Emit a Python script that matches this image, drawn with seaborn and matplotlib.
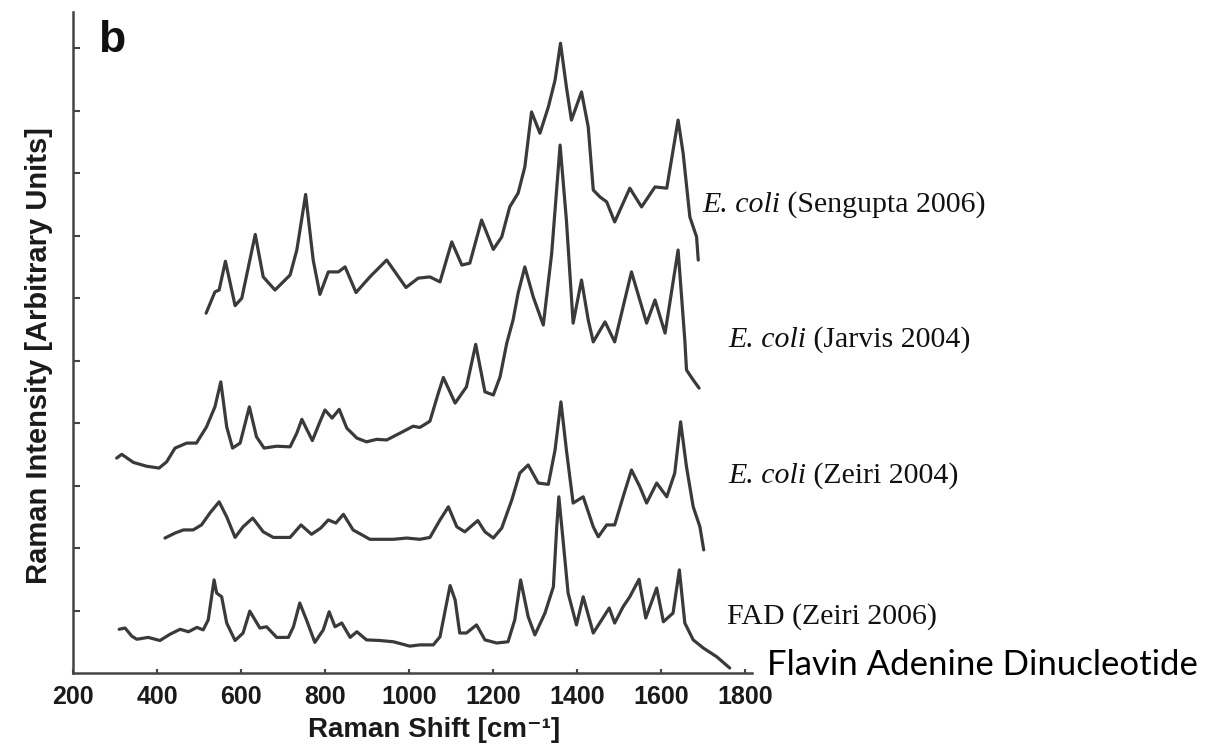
import matplotlib
matplotlib.use("Agg")
import matplotlib.pyplot as plt
import seaborn as sns
import numpy as np

# ---------------- data (Raman shift in cm-1, intensity in arbitrary units, stacked) -------------
sengupta_x = [517, 538, 548, 563, 586, 602, 634, 653, 681, 717, 733, 754, 772, 788, 808, 832, 848,
              874, 907, 947, 993, 1022, 1050, 1074, 1102, 1126, 1145, 1173, 1201, 1221, 1240, 1260,
              1276, 1292, 1312, 1332, 1348, 1361, 1375, 1387, 1411, 1427, 1439, 1455, 1471, 1490,
              1526, 1554, 1586, 1614, 1641, 1653, 1669, 1685, 1689]
sengupta_y = [5.76, 6.10, 6.13, 6.59, 5.88, 6.00, 7.02, 6.34, 6.13, 6.37, 6.77, 7.66, 6.61, 6.06,
              6.42, 6.42, 6.50, 6.09, 6.34, 6.61, 6.17, 6.32, 6.34, 6.26, 6.90, 6.53, 6.56, 7.25,
              6.78, 6.98, 7.46, 7.68, 8.10, 8.98, 8.64, 9.06, 9.49, 10.08, 9.38, 8.85, 9.30, 8.74,
              7.73, 7.62, 7.54, 7.22, 7.76, 7.46, 7.78, 7.76, 8.85, 8.32, 7.30, 6.98, 6.61]

jarvis_x = [304, 316, 344, 375, 405, 423, 443, 471, 494, 518, 538, 552, 566, 580, 598, 620, 637,
            655, 685, 717, 733, 745, 770, 788, 800, 817, 834, 852, 876, 899, 923, 947, 979, 1010,
            1026, 1050, 1070, 1082, 1110, 1137, 1159, 1181, 1201, 1217, 1233, 1248, 1260, 1276,
            1296, 1320, 1340, 1360, 1375, 1391, 1411, 1427, 1439, 1467, 1490, 1530, 1566, 1586,
            1610, 1641, 1657, 1661, 1677, 1691]
jarvis_y = [3.44, 3.50, 3.37, 3.31, 3.28, 3.38, 3.60, 3.68, 3.68, 3.94, 4.26, 4.66, 3.94, 3.60,
            3.68, 4.26, 3.78, 3.60, 3.63, 3.62, 3.84, 4.06, 3.72, 4.02, 4.21, 4.08, 4.22, 3.92,
            3.76, 3.70, 3.74, 3.73, 3.84, 3.95, 3.93, 4.03, 4.48, 4.73, 4.32, 4.58, 5.26, 4.50,
            4.45, 4.74, 5.28, 5.65, 6.08, 6.50, 6.02, 5.57, 6.72, 8.45, 7.25, 5.60, 6.29, 5.65,
            5.30, 5.62, 5.30, 6.42, 5.60, 5.97, 5.44, 6.77, 5.33, 4.85, 4.69, 4.56]

zeiri04_x = [419, 443, 463, 486, 506, 526, 548, 566, 586, 605, 628, 653, 677, 717, 743, 768, 790,
             808, 826, 844, 867, 907, 963, 995, 1026, 1050, 1074, 1094, 1114, 1133, 1164, 1181,
             1201, 1221, 1245, 1264, 1284, 1308, 1332, 1348, 1362, 1375, 1391, 1415, 1439, 1451,
             1471, 1490, 1510, 1530, 1550, 1566, 1590, 1614, 1633, 1647, 1661, 1677, 1693, 1702]
zeiri04_y = [2.16, 2.24, 2.29, 2.29, 2.37, 2.56, 2.74, 2.50, 2.17, 2.34, 2.48, 2.26, 2.17, 2.17,
             2.37, 2.22, 2.32, 2.45, 2.40, 2.54, 2.29, 2.14, 2.14, 2.16, 2.14, 2.17, 2.45, 2.66,
             2.34, 2.26, 2.44, 2.26, 2.16, 2.32, 2.77, 3.20, 3.33, 3.04, 3.02, 3.57, 4.34, 3.57,
             2.72, 2.82, 2.34, 2.18, 2.37, 2.37, 2.82, 3.25, 2.98, 2.72, 3.04, 2.82, 3.20, 4.02,
             3.30, 2.66, 2.34, 1.97]

fad_x = [310, 324, 340, 352, 379, 407, 431, 455, 475, 495, 510, 522, 536, 542, 554, 566, 586, 605,
         621, 645, 661, 685, 713, 725, 740, 756, 776, 796, 810, 824, 840, 860, 876, 899, 931, 963,
         1002, 1026, 1058, 1074, 1088, 1098, 1110, 1121, 1137, 1161, 1181, 1209, 1236, 1252, 1266,
         1284, 1300, 1324, 1344, 1352, 1357, 1367, 1379, 1399, 1415, 1439, 1459, 1477, 1490, 1510,
         1526, 1548, 1564, 1590, 1606, 1629, 1644, 1657, 1677, 1701, 1733, 1764]
fad_y = [0.70, 0.72, 0.59, 0.54, 0.57, 0.52, 0.62, 0.70, 0.66, 0.73, 0.69, 0.85, 1.49, 1.28, 1.22,
         0.80, 0.52, 0.64, 0.99, 0.72, 0.74, 0.57, 0.57, 0.74, 1.12, 0.85, 0.49, 0.69, 0.98, 0.74,
         0.80, 0.57, 0.66, 0.53, 0.52, 0.50, 0.43, 0.45, 0.45, 0.58, 1.06, 1.40, 1.17, 0.64, 0.64,
         0.77, 0.53, 0.48, 0.50, 0.85, 1.49, 0.90, 0.61, 0.96, 1.38, 2.34, 2.82, 2.13, 1.28, 0.77,
         1.22, 0.64, 0.85, 1.04, 0.80, 1.06, 1.22, 1.50, 0.88, 1.36, 0.82, 0.96, 1.65, 0.80, 0.53,
         0.40, 0.26, 0.08]

x_ticks = [200, 400, 600, 800, 1000, 1200, 1400, 1600, 1800]
y_ticks = [1, 2, 3, 4, 5, 6, 7, 8, 9, 10]

curve_labels = [("E. coli", " (Sengupta 2006)"),
                ("E. coli", " (Jarvis 2004)"),
                ("E. coli", " (Zeiri 2004)"),
                ("", "FAD (Zeiri 2006)")]

# ---------------- style ----------------
sns.set_theme(style="white")
plt.rcParams["font.family"] = ["Liberation Sans", "DejaVu Sans"]

W, H = 1209, 753
fig = plt.figure(figsize=(W / 100, H / 100), dpi=100)
fig.patch.set_facecolor("white")
ax = fig.add_axes([73 / W, 80 / H, 679 / W, 661 / H])
ax.set_facecolor("white")

line_color = "#3a3a3a"
for xs, ys in [(sengupta_x, sengupta_y), (jarvis_x, jarvis_y),
               (zeiri04_x, zeiri04_y), (fad_x, fad_y)]:
    sns.lineplot(x=xs, y=ys, ax=ax, color=line_color, linewidth=2.3,
                 sort=False, estimator=None, legend=False,
                 solid_joinstyle="round", solid_capstyle="round")

ax.set_xlim(200, 1817)
ax.set_ylim(0, 10.58)
ax.set_xticks(x_ticks)
ax.set_xticklabels([str(t) for t in x_ticks])
ax.set_yticks(y_ticks)
sns.despine(ax=ax)
for sp in ("left", "bottom"):
    ax.spines[sp].set_color("#444444")
    ax.spines[sp].set_linewidth(1.8)

ax.tick_params(axis="x", bottom=True, direction="in", length=3, width=1.5, color="#444444",
               pad=9, labelsize=18, labelcolor="#1a1a1a")
ax.tick_params(axis="y", left=True, direction="in", length=5, width=1.5, color="#444444",
               labelleft=False)
for lab in ax.get_xticklabels():
    lab.set_fontweight("bold")

ax.set_xlabel("Raman Shift [cm⁻¹]", fontsize=20, fontweight="bold", color="#1a1a1a",
              family=["Liberation Sans", "DejaVu Sans"])
ax.xaxis.set_label_coords(0.532, -0.066)
ax.set_ylabel("Raman Intensity [Arbitrary Units]", fontsize=21, fontweight="bold",
              color="#1a1a1a")
ax.yaxis.set_label_coords(-0.03, 0.48)

# panel letter
fig.text(98 / W, 1 - 52 / H, "b", fontsize=32, fontweight="bold", color="#111111",
         ha="left", va="baseline")

# curve labels (italic species name followed by upright reference)
renderer = fig.canvas.get_renderer()
label_pos = [(702, 212), (728, 347), (728, 483), (727, 624)]
serif = dict(fontsize=21.5, family="Liberation Serif", color="#111111",
             ha="left", va="baseline")
for (ital, rest), (px, py) in zip(curve_labels, label_pos):
    x0 = px / W
    if ital:
        t = fig.text(x0, 1 - py / H, ital, style="italic", **serif)
        bb = t.get_window_extent(renderer=renderer)
        x0 = bb.x1 / (W)
    fig.text(x0, 1 - py / H, rest, **serif)

fig.text(767 / W, 1 - 675 / H, "Flavin Adenine Dinucleotide", fontsize=25,
         family="Lato", color="#000000", ha="left", va="baseline")

fig.savefig("out.png", dpi=100, facecolor="white")
